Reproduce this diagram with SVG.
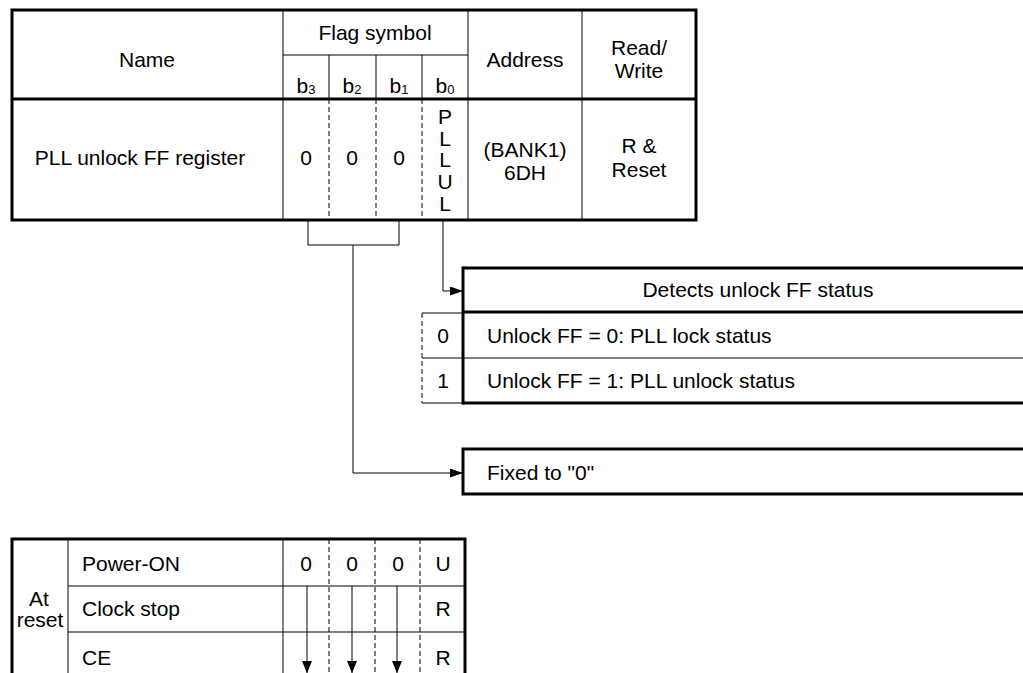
<svg xmlns="http://www.w3.org/2000/svg" width="1023" height="673" viewBox="0 0 1023 673">
<style>
text{font-family:"Liberation Sans",Arial,sans-serif;font-size:21px;fill:#000}
.m{text-anchor:middle}
.sub{font-size:13px}
.thick{stroke:#000;stroke-width:3;fill:none}
.thin{stroke:#000;stroke-width:1;fill:none}
.dash{stroke:#000;stroke-width:1;fill:none;stroke-dasharray:5 3}
</style>
<defs>
<marker id="ah" markerWidth="13" markerHeight="9" refX="13" refY="4.5" orient="auto" markerUnits="userSpaceOnUse">
<path d="M0,0 L13,4.5 L0,9 Z" fill="#000"/>
</marker>
<marker id="ahd" markerWidth="12" markerHeight="10" refX="12" refY="5" orient="auto" markerUnits="userSpaceOnUse">
<path d="M0,0 L12,5 L0,10 Z" fill="#000"/>
</marker>
</defs>
<rect width="1023" height="673" fill="#fff"/>

<g id="register-table">
<rect class="thick" x="12" y="10" width="684" height="210"/>
<line class="thick" x1="12" y1="99" x2="696" y2="99"/>
<line class="thin" x1="283" y1="10" x2="283" y2="220"/>
<line class="thin" x1="468" y1="10" x2="468" y2="220"/>
<line class="thin" x1="582" y1="10" x2="582" y2="220"/>
<line class="thin" x1="283" y1="55" x2="468" y2="55"/>
<line class="thin" x1="329" y1="55" x2="329" y2="99"/>
<line class="thin" x1="376" y1="55" x2="376" y2="99"/>
<line class="thin" x1="422" y1="55" x2="422" y2="99"/>
<line class="dash" x1="329" y1="99" x2="329" y2="220"/>
<line class="dash" x1="376" y1="99" x2="376" y2="220"/>
<line class="dash" x1="422" y1="99" x2="422" y2="220"/>
<text class="m" x="147" y="67">Name</text>
<text class="m" x="375" y="40">Flag symbol</text>
<text class="m" x="306" y="93">b<tspan class="sub" dy="1">3</tspan></text>
<text class="m" x="352" y="93">b<tspan class="sub" dy="1">2</tspan></text>
<text class="m" x="399" y="93">b<tspan class="sub" dy="1">1</tspan></text>
<text class="m" x="445" y="93">b<tspan class="sub" dy="1">0</tspan></text>
<text class="m" x="525" y="67">Address</text>
<text class="m" x="639" y="55">Read/</text>
<text class="m" x="639" y="78">Write</text>
<text class="m" x="140" y="165">PLL unlock FF register</text>
<text class="m" x="306" y="165">0</text>
<text class="m" x="352" y="165">0</text>
<text class="m" x="399" y="165">0</text>
<text class="m" x="445" y="124">P</text>
<text class="m" x="445" y="146">L</text>
<text class="m" x="445" y="167">L</text>
<text class="m" x="445" y="189">U</text>
<text class="m" x="445" y="211">L</text>
<text class="m" x="525" y="157">(BANK1)</text>
<text class="m" x="525" y="180">6DH</text>
<text class="m" x="639" y="153">R &amp;</text>
<text class="m" x="639" y="177">Reset</text>
</g>

<g id="connectors">
<path class="thin" d="M308,220 V245 H399 V220"/>
<path class="thin" d="M353,245 V473 H463" marker-end="url(#ah)"/>
<path class="thin" d="M443,220 V291 H463" marker-end="url(#ah)"/>
</g>

<g id="pllul-box">
<path class="dash" d="M422,313 V403"/>
<path class="thin" d="M422,313 H463 M422,358 H463 M422,403 H463"/>
<line class="thick" x1="463" y1="268" x2="1030" y2="268"/>
<line class="thick" x1="463" y1="312" x2="1030" y2="312"/>
<line class="thin" x1="463" y1="358" x2="1030" y2="358"/>
<line class="thick" x1="463" y1="403" x2="1030" y2="403"/>
<line class="thick" x1="463" y1="266.5" x2="463" y2="404.5"/>
<text class="m" x="758" y="297">Detects unlock FF status</text>
<text class="m" x="443" y="343">0</text>
<text class="m" x="443" y="388">1</text>
<text x="487" y="343">Unlock FF = 0: PLL lock status</text>
<text x="487" y="388">Unlock FF = 1: PLL unlock status</text>
</g>

<g id="fixed-box">
<path class="thick" d="M1030,449 H463 V494 H1030"/>
<text x="487" y="480">Fixed to "0"</text>
</g>

<g id="reset-table">
<path class="thick" d="M12,680 V539 H465 V680"/>
<line class="thin" x1="68" y1="539" x2="68" y2="680"/>
<line class="thin" x1="283" y1="539" x2="283" y2="680"/>
<line class="thin" x1="68" y1="586" x2="465" y2="586"/>
<line class="thin" x1="68" y1="632" x2="465" y2="632"/>
<line class="dash" x1="329" y1="539" x2="329" y2="680"/>
<line class="dash" x1="375" y1="539" x2="375" y2="680"/>
<line class="dash" x1="420" y1="539" x2="420" y2="680"/>
<text class="m" x="39" y="606">At</text>
<text class="m" x="40" y="627">reset</text>
<text x="82" y="571">Power-ON</text>
<text x="82" y="616">Clock stop</text>
<text x="82" y="665">CE</text>
<text class="m" x="306" y="571">0</text>
<text class="m" x="352" y="571">0</text>
<text class="m" x="398" y="571">0</text>
<text class="m" x="443" y="571">U</text>
<text class="m" x="443" y="616">R</text>
<text class="m" x="443" y="665">R</text>
<g id="reset-arrows">
<line class="thin" x1="307" y1="586" x2="307" y2="673" marker-end="url(#ahd)"/>
<line class="thin" x1="352" y1="586" x2="352" y2="673" marker-end="url(#ahd)"/>
<line class="thin" x1="397" y1="586" x2="397" y2="673" marker-end="url(#ahd)"/>
</g>
</g>
</svg>
